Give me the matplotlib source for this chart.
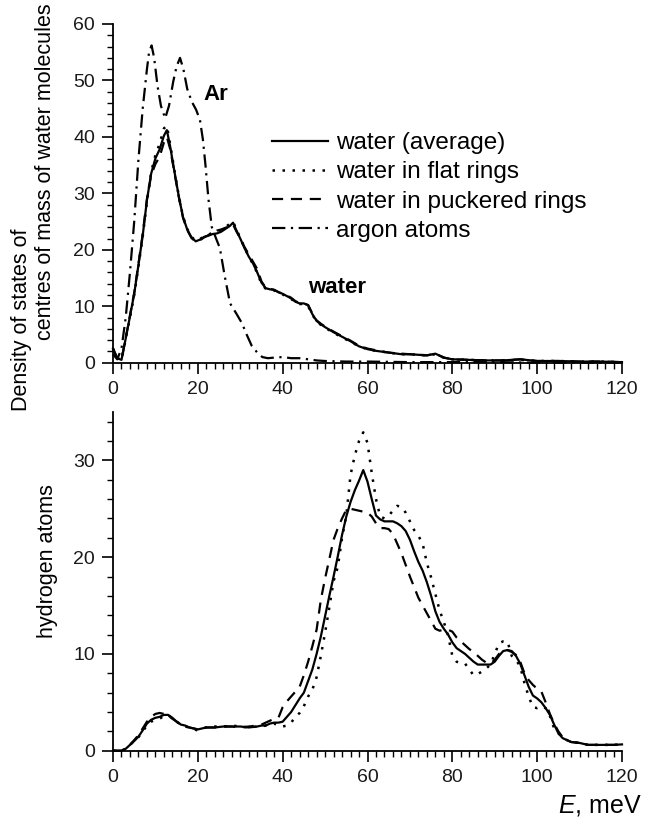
import numpy as np
import matplotlib
matplotlib.use('Agg')
import matplotlib.pyplot as plt
from matplotlib.ticker import MultipleLocator

plt.rcParams['font.family'] = ['Liberation Sans', 'DejaVu Sans']
plt.rcParams['mathtext.fontset'] = 'custom'
plt.rcParams['mathtext.rm'] = 'Liberation Sans'
plt.rcParams['mathtext.it'] = 'Liberation Sans:italic'

# ---- top panel: centres of mass of water molecules + argon ----
E_top = [0, 1, 2, 3, 4, 5, 6, 7, 8, 9, 10, 11, 12, 12.7, 13.5, 14.5, 15.5, 16.5, 17.5, 18.5,
         19.5, 20.5, 21.5, 22.5, 23.5, 24.5, 25.5, 26.5, 27.5, 28.3, 29, 30, 31, 32, 33, 34,
         35, 36, 37, 38, 39, 40, 41, 42, 43, 44, 45, 46, 47, 48, 49, 50, 52, 54, 56, 58, 60,
         62, 64, 66, 68, 70, 72, 74, 76, 78, 80, 84, 88, 92, 96, 100, 105, 110, 115, 120]
water_avg_top = [2.5, 0.8, 0.5, 4.3, 8.2, 12.2, 17.3, 22.5, 28.8, 33.5, 36.2, 37.8, 40.2, 41.2,
                 38.2, 33.8, 29.5, 25.8, 23.6, 22.2, 21.5, 21.8, 22.3, 22.5, 22.8, 22.9, 23.2,
                 23.7, 24.2, 24.8, 23.6, 22.0, 20.3, 18.8, 17.6, 16.0, 14.2, 13.2, 13.0, 12.9,
                 12.5, 12.2, 11.8, 11.4, 10.8, 10.5, 10.5, 10.2, 8.6, 7.4, 6.8, 6.3, 5.4, 4.6,
                 3.8, 2.9, 2.4, 2.1, 1.9, 1.7, 1.5, 1.5, 1.4, 1.3, 1.6, 0.9, 0.6, 0.5, 0.4, 0.4,
                 0.6, 0.3, 0.3, 0.2, 0.2, 0.1]
water_flat_top = [2.5, 0.8, 0.5, 4.2, 8.0, 12.0, 17.0, 22.3, 28.5, 33.8, 36.8, 38.8, 41.5, 42.0,
                  38.6, 34.0, 29.6, 25.9, 23.7, 22.3, 21.6, 21.9, 22.4, 22.7, 23.0, 23.2, 23.5,
                  24.0, 24.6, 25.0, 23.8, 22.1, 20.4, 18.8, 17.5, 15.9, 14.0, 13.1, 13.0, 12.8,
                  12.4, 12.1, 11.7, 11.3, 10.7, 10.4, 10.4, 10.0, 8.5, 7.3, 6.7, 6.2, 5.3, 4.5,
                  3.7, 2.9, 2.4, 2.1, 1.9, 1.7, 1.5, 1.5, 1.4, 1.3, 1.5, 0.9, 0.6, 0.5, 0.4, 0.4,
                  0.5, 0.3, 0.3, 0.2, 0.2, 0.1]
water_puck_top = [2.5, 0.8, 0.5, 4.4, 8.4, 12.4, 17.5, 22.8, 29.0, 33.2, 35.2, 36.5, 39.0, 40.0,
                  37.8, 33.6, 29.4, 25.7, 23.5, 22.1, 21.4, 21.7, 22.2, 22.6, 23.0, 23.4, 23.6,
                  23.9, 24.2, 24.5, 23.4, 22.0, 20.5, 19.2, 17.9, 16.6, 14.4, 13.3, 13.1, 12.9,
                  12.5, 12.2, 11.9, 11.5, 10.9, 10.6, 10.5, 10.2, 8.7, 7.5, 6.9, 6.4, 5.5, 4.7,
                  3.9, 3.0, 2.5, 2.2, 1.9, 1.7, 1.6, 1.5, 1.4, 1.3, 1.6, 0.9, 0.6, 0.5, 0.4, 0.4,
                  0.6, 0.3, 0.3, 0.2, 0.2, 0.1]

E_ar = [0, 1, 2, 3, 4, 5, 6, 7, 8, 8.5, 9.1, 9.7, 10.5, 11.3, 12.3, 13.2, 14.2, 15, 15.8, 16.6,
        17.5, 18.6, 19.6, 20.5, 21.2, 21.8, 22.5, 23.3, 24.3, 25.2, 26.3, 27.6, 29, 30.4, 31.5,
        32.7, 34, 35.2, 36.5, 38, 40, 42, 44, 46, 48, 50, 55, 60, 70, 80, 90, 100, 110, 120]
argon = [1.5, 0.6, 2.5, 8.0, 16.0, 25.0, 36.0, 45.0, 52.0, 55.0, 56.2, 54.0, 49.0, 45.5, 43.3,
         45.5, 49.8, 52.5, 54.0, 52.0, 48.5, 46.2, 44.8, 43.0, 39.5, 35.0, 29.0, 24.0, 22.0,
         20.3, 15.5, 10.5, 8.8, 7.0, 5.0, 3.0, 1.8, 1.0, 0.8, 0.9, 1.0, 0.8, 0.8, 0.6, 0.4, 0.3,
         0.2, 0.2, 0.1, 0.1, 0.1, 0.0, 0.0, 0.0]

# ---- bottom panel: hydrogen atoms ----
E_bot = [0, 2, 3, 4, 5, 6, 7, 8, 9, 10, 11, 12, 13, 14, 15, 16, 17, 18, 19, 20, 21, 22, 24, 26,
         28, 30, 32, 34, 35, 36, 37, 38, 39, 40, 41, 42, 43, 44, 45, 46, 47, 48, 49, 50, 51, 52,
         53, 54, 55, 56, 57, 58, 59, 60, 61, 62, 63, 64, 65, 66, 67, 68, 69, 70, 71, 72, 73, 74,
         75, 76, 77, 78, 79, 80, 81, 82, 83, 84, 85, 86, 87, 88, 89, 90, 91, 92, 93, 94, 95, 96,
         97, 98, 99, 100, 101, 102, 103, 104, 105, 106, 107, 108, 110, 112, 114, 116, 118, 120]
h_avg = [0, 0, 0.2, 0.6, 1.0, 1.45, 2.1, 2.8, 3.2, 3.4, 3.5, 3.7, 3.7, 3.4, 3.0, 2.7, 2.6, 2.4,
         2.3, 2.2, 2.3, 2.4, 2.4, 2.5, 2.5, 2.5, 2.4, 2.5, 2.6, 2.6, 2.8, 2.9, 2.9, 3.0, 3.5,
         4.0, 4.7, 5.4, 6.0, 7.2, 8.4, 10.0, 11.8, 13.9, 16.0, 18.0, 20.1, 22.3, 24.2, 25.7,
         26.9, 27.9, 29.0, 27.8, 26.0, 24.3, 23.9, 23.7, 23.7, 23.7, 23.5, 23.2, 22.7, 21.8,
         20.6, 19.5, 18.6, 17.4, 16.0, 14.4, 13.3, 12.6, 12.0, 11.2, 10.6, 10.3, 10.0, 9.6, 9.2,
         8.9, 8.9, 8.9, 8.9, 9.2, 9.8, 10.3, 10.4, 10.3, 9.8, 9.0, 7.8, 6.6, 5.7, 5.4, 5.0, 4.4,
         3.7, 2.7, 1.8, 1.3, 1.1, 0.9, 0.8, 0.6, 0.6, 0.6, 0.6, 0.65]
h_flat = [0, 0, 0.2, 0.6, 1.0, 1.4, 2.0, 2.6, 3.0, 3.2, 3.3, 3.6, 3.7, 3.3, 3.0, 2.7, 2.5, 2.4,
          2.2, 2.1, 2.3, 2.4, 2.5, 2.5, 2.6, 2.5, 2.4, 2.5, 2.5, 2.6, 2.7, 2.8, 2.6, 2.5, 2.6,
          2.9, 3.5, 3.9, 4.6, 5.6, 6.3, 7.6, 9.8, 12.2, 14.8, 17.5, 19.0, 22.0, 24.3, 28.5,
          30.5, 32.0, 32.9, 31.8, 28.7, 26.0, 24.2, 24.0, 24.3, 24.8, 25.3, 25.2, 24.6, 23.7,
          22.8, 22.2, 21.4, 19.4, 17.9, 16.2, 14.5, 13.3, 11.9, 9.8, 9.2, 9.0, 9.0, 8.4, 7.8,
          7.9, 8.2, 8.5, 8.9, 10.0, 11.1, 11.3, 11.3, 9.8, 9.4, 8.7, 7.0, 5.6, 4.5, 4.4, 4.6,
          4.4, 3.6, 2.3, 1.8, 1.4, 1.1, 0.9, 0.8, 0.6, 0.6, 0.6, 0.6, 0.65]
h_puck = [0, 0, 0.2, 0.6, 1.1, 1.6, 2.3, 3.0, 3.5, 3.8, 3.9, 3.8, 3.6, 3.3, 3.0, 2.7, 2.5, 2.4,
          2.3, 2.2, 2.3, 2.4, 2.4, 2.5, 2.5, 2.4, 2.5, 2.6, 2.7, 2.9, 3.1, 3.3, 3.4, 4.5, 5.1,
          5.6, 6.1, 6.6, 7.8, 9.2, 10.8, 12.5, 15.6, 17.8, 19.8, 21.8, 23.0, 24.0, 24.9, 25.0,
          24.9, 24.8, 24.7, 24.6, 24.2, 23.5, 23.0, 23.0, 22.9, 22.4, 21.4, 20.4, 19.2, 18.0,
          16.9, 15.8, 15.0, 14.2, 13.4, 12.6, 12.4, 12.5, 12.5, 12.3, 11.7, 11.3, 10.9, 10.5,
          10.2, 9.8, 9.4, 9.1, 9.0, 9.4, 10.0, 10.2, 10.4, 10.2, 9.9, 9.2, 8.0, 7.3, 6.8, 6.4,
          6.1, 5.0, 3.8, 2.8, 2.0, 1.4, 1.1, 0.9, 0.8, 0.6, 0.6, 0.6, 0.6, 0.65]

labels = ['water (average)', 'water in flat rings', 'water in puckered rings', 'argon atoms']

lw = 1.6
st_solid = '-'
st_dot = (0, (1, 3))
st_dash = (0, (5, 3.5))
st_dashdot = (0, (6, 2.5, 1, 2.5))

fig = plt.figure(figsize=(6.53, 8.19), dpi=100)
ax1 = fig.add_axes([113 / 653, 1 - 362.7 / 819, 509 / 653, 338.7 / 819])
ax2 = fig.add_axes([113 / 653, 1 - 750.7 / 819, 509 / 653, 338.7 / 819])

l1, = ax1.plot(E_top, water_avg_top, color='black', lw=lw, ls=st_solid)
l2, = ax1.plot(E_top, water_flat_top, color='black', lw=1.8, ls=st_dot)
l3, = ax1.plot(E_top, water_puck_top, color='black', lw=lw, ls=st_dash)
l4, = ax1.plot(E_ar, argon, color='black', lw=lw, ls=st_dashdot)

ax2.plot(E_bot, h_flat, color='black', lw=1.8, ls=st_dot)
ax2.plot(E_bot, h_puck, color='black', lw=lw, ls=st_dash)
ax2.plot(E_bot, h_avg, color='black', lw=lw, ls=st_solid)

ax1.set_ylim(0, 60)
ax2.set_ylim(0, 35)
for ax in (ax1, ax2):
    ax.set_xlim(0, 120)
    ax.spines['top'].set_visible(False)
    ax.spines['right'].set_visible(False)
    ax.spines['left'].set_linewidth(1.3)
    ax.spines['bottom'].set_linewidth(1.3)
    ax.xaxis.set_major_locator(MultipleLocator(20))
    ax.xaxis.set_minor_locator(MultipleLocator(2))
    ax.yaxis.set_major_locator(MultipleLocator(10))
    ax.yaxis.set_minor_locator(MultipleLocator(2))
    ax.tick_params(which='major', direction='out', length=8, width=1.2, labelsize=14,
                   labelcolor='#1a1a1a', pad=5)
    ax.tick_params(which='minor', direction='out', length=4.5, width=1.0)
    for l in ax.lines:
        l.set_clip_on(False)

fig.legend([l1, l2, l3, l4], labels, loc='upper left',
           bbox_to_anchor=(272 / 653, 1 - 132 / 819), frameon=False, fontsize=17.5,
           handlelength=2.3, handletextpad=0.35, labelspacing=0.3,
           borderpad=0, borderaxespad=0)

ax1.text(24.2, 47.5, 'Ar', fontsize=16, fontweight='bold', ha='center', va='center')
ax1.text(52.9, 13.3, 'water', fontsize=16, fontweight='bold', ha='center', va='center')

fig.text(22 / 653, 1 - 320 / 819, 'Density of states of', rotation=90,
         ha='center', va='center', fontsize=15.5)
fig.text(46 / 653, 1 - 172 / 819, 'centres of mass of water molecules', rotation=90,
         ha='center', va='center', fontsize=15.5)
fig.text(48 / 653, 1 - 561 / 819, 'hydrogen atoms', rotation=90,
         ha='center', va='center', fontsize=15.5)
fig.text(642 / 653, 1 - 806 / 819, r'$E$, meV', ha='right', va='center', fontsize=18)

fig.savefig('out.png', dpi=100)
